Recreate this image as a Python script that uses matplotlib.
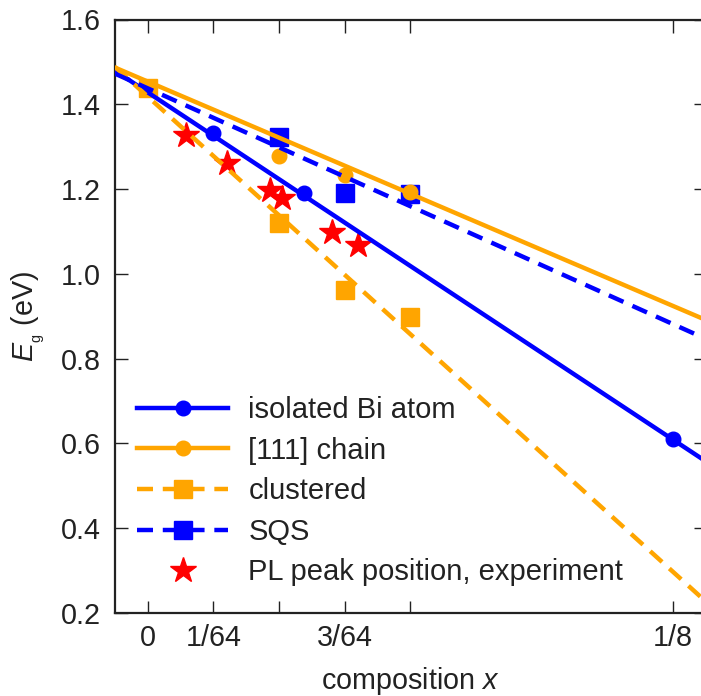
import numpy as np
import matplotlib
matplotlib.use("Agg")
import matplotlib.pyplot as plt
from matplotlib.lines import Line2D

plt.rcParams['font.family'] = ['Liberation Sans', 'DejaVu Sans']
plt.rcParams['mathtext.fontset'] = 'custom'
plt.rcParams['mathtext.rm'] = 'Liberation Sans'
plt.rcParams['mathtext.it'] = 'Liberation Sans:italic'

# Band gap vs Bi composition (GaAs1-xBix)
x_isolated = [1 / 64, 0.0372, 1 / 8]
eg_isolated = [1.333, 1.190, 0.611]

x_chain = [2 / 64, 3 / 64, 4 / 64]
eg_chain = [1.278, 1.233, 1.193]

x_clustered = [0.0, 2 / 64, 3 / 64, 4 / 64]
eg_clustered = [1.438, 1.120, 0.962, 0.898]

x_sqs = [2 / 64, 3 / 64, 4 / 64]
eg_sqs = [1.323, 1.191, 1.188]

x_pl = [0.0091, 0.0189, 0.0291, 0.0320, 0.0439, 0.0499]
eg_pl = [1.328, 1.262, 1.198, 1.179, 1.099, 1.068]

# linear fits: (intercept, slope)
fit_isolated = (1.428, -6.555)
fit_chain = (1.4535, -4.235)
fit_clustered = (1.418, -8.97)
fit_sqs = (1.4375, -4.45)

tick_pos = [0, 1 / 64, 2 / 64, 3 / 64, 4 / 64, 8 / 64]
tick_labels = ['0', '1/64', '', '3/64', '', '1/8']

labels = ['isolated Bi atom', '[111] chain', 'clustered', 'SQS',
          'PL peak position, experiment']

BLUE = '#0000ff'
ORANGE = '#ffa500'
RED = '#ff0000'
INK = '#222222'

fig = plt.figure(figsize=(7.01, 6.96), dpi=100)
ax = fig.add_axes([115 / 701, 83 / 696, 591 / 701, 593.5 / 696])

xlim = (-0.5 / 64, 8.5 / 64)
ax.set_xlim(*xlim)
ax.set_ylim(0.2, 1.6)

lw = 3.2
dash = (3.6, 2.2)
ms_circ, ms_sq, ms_star = 10.5, 13, 19

ax.plot(x_pl, eg_pl, ls='none', marker='*', ms=ms_star, color=RED, mec=RED, zorder=2)

ax.plot(x_isolated, eg_isolated, ls='none', marker='o', ms=ms_circ, color=BLUE, zorder=3)
ax.plot(x_sqs, eg_sqs, ls='none', marker='s', ms=ms_sq, color=BLUE, zorder=3)
ax.plot(x_chain, eg_chain, ls='none', marker='o', ms=ms_circ, color=ORANGE, zorder=3)
ax.plot(x_clustered, eg_clustered, ls='none', marker='s', ms=ms_sq, color=ORANGE, zorder=3)

xs = np.array(xlim)
ax.plot(xs, fit_isolated[0] + fit_isolated[1] * xs, color=BLUE, lw=lw, zorder=4)
ax.plot(xs, fit_clustered[0] + fit_clustered[1] * xs, color=ORANGE, lw=lw,
        dashes=dash, zorder=4)
ax.plot(xs, fit_sqs[0] + fit_sqs[1] * xs, color=BLUE, lw=lw, dashes=dash, zorder=4)
ax.plot(xs, fit_chain[0] + fit_chain[1] * xs, color=ORANGE, lw=lw, zorder=4)

ax.set_xticks(tick_pos)
ax.set_xticklabels(tick_labels)
ax.set_yticks(np.arange(0.2, 1.61, 0.2))
ax.set_yticklabels([f'{v:.1f}' for v in np.arange(0.2, 1.61, 0.2)])
ax.tick_params(direction='in', length=9, width=1.0, labelsize=20.7,
               top=True, right=True, colors=INK)
ax.tick_params(axis='y', pad=10)
ax.tick_params(axis='x', pad=8)
for s in ax.spines.values():
    s.set_linewidth(1.6)
    s.set_color(INK)

ax.set_xlabel('composition $x$', fontsize=20.7, labelpad=9, color=INK)
ax.set_ylabel('$E_{_\\mathrm{g}}$ (eV)', fontsize=20.7, labelpad=10, color=INK)

handles = [
    Line2D([], [], color=BLUE, lw=lw, marker='o', ms=ms_circ),
    Line2D([], [], color=ORANGE, lw=lw, marker='o', ms=ms_circ),
    Line2D([], [], color=ORANGE, lw=lw, dashes=dash, marker='s', ms=ms_sq),
    Line2D([], [], color=BLUE, lw=lw, dashes=dash, marker='s', ms=ms_sq),
    Line2D([], [], color=RED, ls='none', marker='*', ms=ms_star),
]
ax.legend(handles, labels, loc='lower left', bbox_to_anchor=(0.038, 0.045),
          frameon=False, fontsize=21, handlelength=3.1, handletextpad=0.7,
          labelspacing=0.43, borderpad=0, borderaxespad=0, labelcolor=INK)

fig.savefig('out.png', dpi=100)
